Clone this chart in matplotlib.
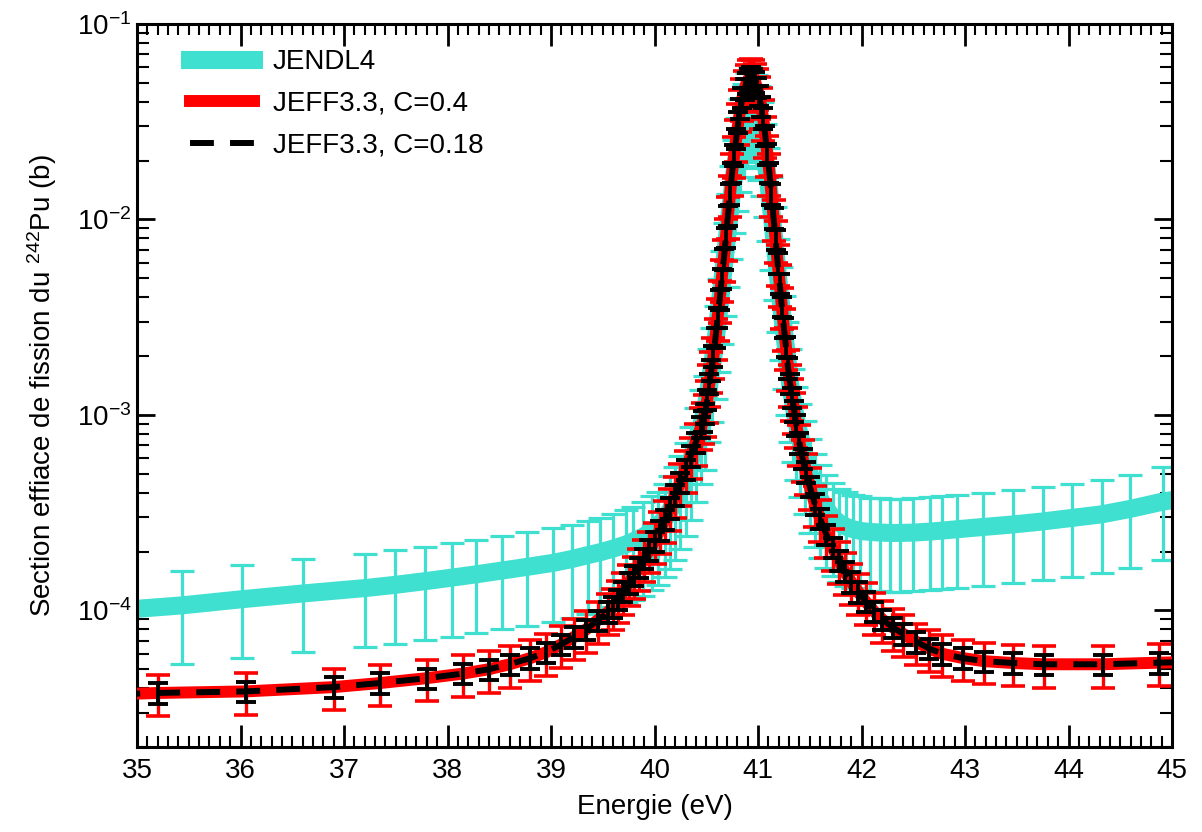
import matplotlib.pyplot as plt
import numpy as np
from matplotlib.lines import Line2D
from matplotlib.ticker import MultipleLocator, LogLocator, NullFormatter

plt.rcParams['font.family'] = ['Liberation Sans', 'DejaVu Sans']
plt.rcParams['mathtext.fontset'] = 'custom'
plt.rcParams['mathtext.rm'] = 'Liberation Sans'
plt.rcParams['mathtext.it'] = 'Liberation Sans:italic'
plt.rcParams['axes.unicode_minus'] = False

# JENDL4 evaluation (energy in eV, cross section in b)
jendl_e = [34.8, 35.43, 36.01, 36.6, 37.2, 37.49, 37.78, 38.04, 38.28, 38.53, 38.77,
           39.02, 39.2, 39.36, 39.47, 39.6, 39.72, 39.79, 39.89, 39.98, 40.03, 40.1,
           40.15, 40.2, 40.25, 40.3, 40.35, 40.4, 40.45, 40.49, 40.53, 40.56, 40.59,
           40.62, 40.65, 40.68, 40.71, 40.74, 40.77, 40.8, 40.83, 40.86, 40.89, 40.92,
           40.95, 40.98, 41.01, 41.04, 41.07, 41.1, 41.13, 41.16, 41.19, 41.22, 41.25,
           41.28, 41.31, 41.34, 41.37, 41.41, 41.45, 41.5, 41.55, 41.6, 41.66, 41.72,
           41.78, 41.85, 41.92, 41.99, 42.08, 42.18, 42.28, 42.37, 42.5, 42.66, 42.78,
           42.92, 43.17, 43.46, 43.75, 44.03, 44.32, 44.59, 44.91, 45.2]
jendl_xs = [1.0e-4, 1.06e-4, 1.14e-4, 1.22e-4, 1.3e-4, 1.35e-4, 1.41e-4, 1.47e-4, 1.53e-4,
            1.6e-4, 1.67e-4, 1.75e-4, 1.83e-4, 1.92e-4, 1.98e-4, 2.07e-4, 2.17e-4, 2.25e-4,
            2.38e-4, 2.55e-4, 2.7e-4, 2.95e-4, 3.25e-4, 3.6e-4, 4.1e-4, 4.8e-4, 5.8e-4,
            7.2e-4, 8.9e-4, 1.05e-3, 1.45e-3, 1.85e-3, 2.4e-3, 3.3e-3, 4.6e-3, 6.4e-3,
            9.0e-3, 1.25e-2, 1.7e-2, 2.2e-2, 2.75e-2, 3.3e-2, 3.75e-2, 4.0e-2, 3.95e-2,
            3.65e-2, 3.2e-2, 2.65e-2, 2.05e-2, 1.55e-2, 1.1e-2, 7.7e-3, 5.3e-3, 3.8e-3,
            2.7e-3, 2.0e-3, 1.45e-3, 1.15e-3, 9.3e-4, 7.6e-4, 6.2e-4, 5.0e-4, 4.2e-4,
            3.7e-4, 3.3e-4, 3.0e-4, 2.8e-4, 2.68e-4, 2.6e-4, 2.55e-4, 2.52e-4, 2.5e-4,
            2.49e-4, 2.49e-4, 2.5e-4, 2.53e-4, 2.56e-4, 2.6e-4, 2.67e-4, 2.75e-4, 2.85e-4,
            2.97e-4, 3.1e-4, 3.3e-4, 3.6e-4, 3.8e-4]
jendl_rel_unc = 0.5

# JEFF3.3 evaluation, same central values for both correlation settings
jeff_e = [34.8, 35.2, 36.05, 36.9, 37.35, 37.8, 38.15, 38.4, 38.6, 38.8, 38.95, 39.1,
          39.22, 39.34, 39.45, 39.55, 39.6, 39.65, 39.7, 39.75, 39.8, 39.85, 39.9, 39.95,
          40.0, 40.05, 40.1, 40.15, 40.2, 40.25, 40.3, 40.35, 40.4, 40.45, 40.47, 40.49,
          40.51, 40.53, 40.55, 40.57, 40.59, 40.61, 40.63, 40.65, 40.67, 40.69, 40.71,
          40.73, 40.75, 40.77, 40.79, 40.81, 40.83, 40.85, 40.87, 40.89, 40.91, 40.93,
          40.95, 40.97, 40.99, 41.01, 41.03, 41.05, 41.07, 41.09, 41.11, 41.13, 41.15,
          41.17, 41.19, 41.21, 41.23, 41.25, 41.27, 41.29, 41.31, 41.33, 41.35, 41.37,
          41.4, 41.43, 41.46, 41.5, 41.55, 41.6, 41.66, 41.72, 41.78, 41.84, 41.9, 41.97,
          42.04, 42.12, 42.2, 42.3, 42.4, 42.53, 42.65, 42.78, 42.98, 43.18, 43.46, 43.76,
          44.33, 44.87, 45.2]
jeff_xs = [3.72e-5, 3.78e-5, 3.85e-5, 4.05e-5, 4.25e-5, 4.5e-5, 4.75e-5, 5.0e-5, 5.3e-5,
           5.7e-5, 6.1e-5, 6.7e-5, 7.3e-5, 8.0e-5, 8.9e-5, 9.8e-5, 1.04e-4, 1.14e-4,
           1.25e-4, 1.38e-4, 1.51e-4, 1.66e-4, 1.84e-4, 2.04e-4, 2.26e-4, 2.57e-4, 2.92e-4,
           3.35e-4, 3.89e-4, 4.52e-4, 5.25e-4, 6.17e-4, 7.24e-4, 8.7e-4, 9.3e-4, 1.02e-3,
           1.2e-3, 1.45e-3, 1.7e-3, 2.0e-3, 2.5e-3, 3.15e-3, 3.9e-3, 5.0e-3, 6.3e-3, 8.1e-3,
           1.05e-2, 1.35e-2, 1.74e-2, 2.14e-2, 2.6e-2, 3.15e-2, 3.7e-2, 4.2e-2, 4.65e-2,
           5.0e-2, 5.25e-2, 5.35e-2, 5.25e-2, 5.05e-2, 4.75e-2, 4.3e-2, 3.8e-2, 3.3e-2,
           2.7e-2, 2.16e-2, 1.74e-2, 1.35e-2, 1.02e-2, 7.9e-3, 6.0e-3, 4.7e-3, 3.6e-3,
           2.8e-3, 2.24e-3, 1.74e-3, 1.45e-3, 1.23e-3, 1.05e-3, 8.9e-4, 7.2e-4, 6.0e-4,
           5.1e-4, 4.3e-4, 3.5e-4, 2.95e-4, 2.45e-4, 2.1e-4, 1.8e-4, 1.58e-4, 1.4e-4,
           1.24e-4, 1.11e-4, 9.9e-5, 9.0e-5, 8.2e-5, 7.6e-5, 6.9e-5, 6.4e-5, 6.0e-5, 5.7e-5,
           5.5e-5, 5.38e-5, 5.3e-5, 5.3e-5, 5.4e-5, 5.45e-5]
jeff_rel_unc_c04 = 0.24
jeff_rel_unc_c018 = 0.12

labels = ['JENDL4', 'JEFF3.3, C=0.4', 'JEFF3.3, C=0.18']

TURQ = '#40E0D0'
RED = '#FF0000'

fig = plt.figure(figsize=(12.02, 8.32), dpi=100)
ax = fig.add_axes([137 / 1202, 1 - 747 / 832, 1035 / 1202, 723 / 832])

jendl_xs = np.array(jendl_xs)
jeff_xs = np.array(jeff_xs)

ax.errorbar(jendl_e, jendl_xs, yerr=jendl_rel_unc * jendl_xs, color=TURQ, lw=13,
            elinewidth=2.3, capsize=8.3, capthick=2.3, zorder=2)
ax.errorbar(jeff_e, jeff_xs, yerr=jeff_rel_unc_c04 * jeff_xs, color=RED, lw=8.6,
            elinewidth=2.4, capsize=8.6, capthick=2.6, zorder=3)
eb = ax.errorbar(jeff_e, jeff_xs, yerr=jeff_rel_unc_c018 * jeff_xs, color='black', lw=4.3,
                 elinewidth=2.8, capsize=7.2, capthick=2.8, zorder=4)
eb[0].set_dashes((4, 2.7))

ax.set_yscale('log')
ax.set_xlim(35, 45)
ax.set_ylim(2e-5, 1e-1)

ax.xaxis.set_major_locator(MultipleLocator(1))
ax.xaxis.set_minor_locator(MultipleLocator(0.1))
ax.yaxis.set_major_locator(LogLocator(base=10))
ax.yaxis.set_minor_locator(LogLocator(base=10, subs=np.arange(2, 10)))
ax.yaxis.set_minor_formatter(NullFormatter())

ax.tick_params(which='both', direction='in', top=True, right=True, labelsize=20)
ax.tick_params(axis='x', which='major', length=16, width=2, pad=8)
ax.tick_params(axis='x', which='minor', length=8, width=1.5)
ax.tick_params(axis='y', which='major', length=13, width=2, pad=4)
ax.tick_params(axis='y', which='minor', length=8.5, width=1.5)
for s in ax.spines.values():
    s.set_linewidth(2.2)

ax.set_xlabel('Energie (eV)', fontsize=20, labelpad=7)
ax.set_ylabel('Section effiace de fission du $^{242}$Pu (b)', fontsize=20, labelpad=13)

handles = [Line2D([], [], color=TURQ, lw=13),
           Line2D([], [], color=RED, lw=8.6),
           Line2D([], [], color='black', lw=4.3, dashes=(4, 2.7))]
ax.legend(handles, labels, loc='upper left', bbox_to_anchor=(0.051, 0.965),
          frameon=False, fontsize=20, handlelength=2.3, handletextpad=0.68,
          labelspacing=0.56, borderpad=0, borderaxespad=0)

fig.savefig('out.png', dpi=100)
